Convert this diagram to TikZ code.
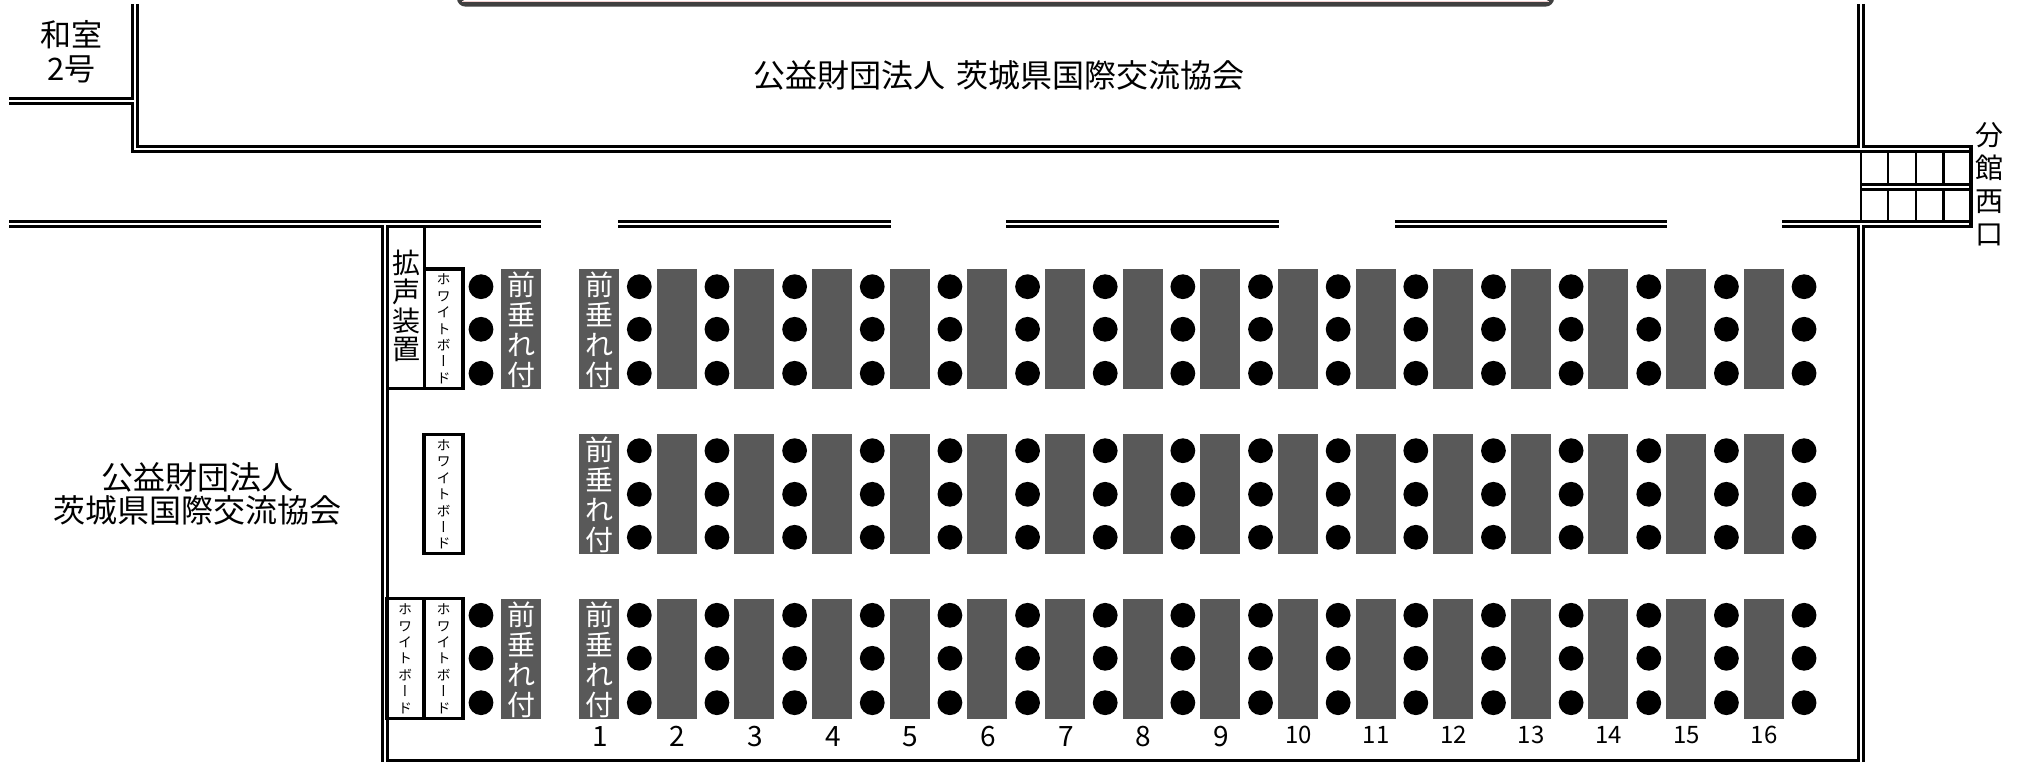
\documentclass[tikz,border=0pt]{standalone}
\usepackage{fontspec}
\setmainfont{Noto Sans CJK JP}
\newfontfamily\jpv[RawFeature={+vert}]{Noto Sans CJK JP}
\newcommand{\fsz}[2]{\fontsize{#1}{#2}\selectfont\lineskiplimit=-100pt\relax}
\tikzset{
  wall/.style={line width=1.55pt,line cap=butt,line join=miter,black},
  box wall/.style={line width=1.75pt,line cap=butt,line join=miter,black},
  thin wall/.style={line width=1.4pt,line cap=butt,black},
  desk/.style={fill=deskgray,draw=none,minimum width=20pt,minimum height=60pt,inner sep=0pt},
  seat/.style={circle,fill=black,draw=none,minimum size=12.4pt,inner sep=0pt},
  desklabel/.style={text=white,inner sep=0pt,align=center,font=\fsz{14}{14.9}},
  bigtext/.style={inner sep=0pt,align=center,font=\fsz{16}{12.6}},
  wbtext/.style={inner sep=0pt,align=center,font=\jpv\fsz{7}{8.2}},
  coltext/.style={inner sep=0pt,align=center,font=\fsz{14}{14.4}},
  numa/.style={inner sep=0pt,anchor=base,font=\fsz{14}{14}},
  numb/.style={inner sep=0pt,anchor=base,font=\fsz{12}{12}},
}
\definecolor{deskgray}{HTML}{595959}
\definecolor{bardark}{HTML}{404040}
\definecolor{barpink}{HTML}{F2D0D0}
\begin{document}
\begin{tikzpicture}[x=0.5pt,y=-0.5pt]
\useasboundingbox (0,0) rectangle (2018,764);
\fill[white] (0,0) rectangle (2018,764);
\begin{scope}
\clip (0,0) rectangle (2018,764);
\draw[bardark,line width=2.6pt,rounded corners=3pt] (459.5,-20) -- (459.5,4) -- (1551.5,4) -- (1551.5,-20);
\draw[barpink,line width=0.5pt] (462,1.2) -- (1549,1.2);
\end{scope}
% upper room
\draw[wall] (132.5,4) -- (132.5,98.5) -- (9,98.5);
\draw[wall] (9,103.5) -- (132.5,103.5) -- (132.5,151.5) -- (1971,151.5);
\draw[wall] (137.5,4) -- (137.5,146.5) -- (1858.5,146.5) -- (1858.5,4);
\draw[wall] (1863.5,4) -- (1863.5,146.5) -- (1971,146.5);
% stairs
\draw[wall] (1971,145) -- (1971,228);
\draw[thin wall] (1861,151.5) -- (1861,221.5);
\draw[thin wall] (1861,184.7) -- (1971,184.7);
\draw[thin wall] (1861,189.5) -- (1971,189.5);
\foreach \sx in {1888,1916,1943.5}{
  \draw[thin wall] (\sx,151.5) -- (\sx,184.7);
  \draw[thin wall] (\sx,189.5) -- (\sx,221.5);
}
% corridor wall segments
\draw[wall] (9,221.5) -- (541,221.5);
\draw[wall] (9,226.3) -- (382.3,226.3) -- (382.3,762);
\draw[wall] (541,226.3) -- (387.3,226.3) -- (387.3,760.7) -- (1858.6,760.7);
\foreach \xa/\xb in {618/891,1006/1279,1395/1667}{
  \draw[wall] (\xa,221.5) -- (\xb,221.5);
  \draw[wall] (\xa,226.3) -- (\xb,226.3);
}
\draw[wall] (1782,221.5) -- (1971,221.5);
\draw[wall] (1782,226.3) -- (1858.6,226.3) -- (1858.6,762);
\draw[wall] (1863.8,762) -- (1863.8,226.3) -- (1971,226.3);
% boxes
\draw[box wall] (424.5,227) -- (424.5,388.5);
\draw[box wall] (387,388.5) -- (463,388.5) -- (463,269) -- (424.5,269);
\draw[box wall] (424,434.7) rectangle (463,553.5);
\draw[box wall] (387,598.7) rectangle (463,718.3);
\draw[box wall] (424,598.7) -- (424,718.3);
% desks and seats
\foreach \rid/\top/\ya/\yb/\yc in {a/269/286.7/329.3/373.3,b/434/450.7/494.3/537.3,c/599/615.3/658.3/702.7}{
  \foreach \i in {0,...,15}{
    \pgfmathsetmacro{\dx}{579+77.65*\i+20}
    \pgfmathsetmacro{\sx}{639.3+77.65*\i}
    \pgfmathsetmacro{\dy}{\top+60}
    \node[desk] (desk\rid\i) at (\dx,\dy) {};
    \node[seat] (seat\rid\i x) at (\sx,\ya) {};
    \node[seat] (seat\rid\i y) at (\sx,\yb) {};
    \node[seat] (seat\rid\i z) at (\sx,\yc) {};
  }
}
\node[desk] (deskleftA) at (521,329) {};
\node[desk] (deskleftC) at (521,659) {};
\foreach \rid/\ya/\yb/\yc in {a/286.7/329.3/373.3,c/615.3/658.3/702.7}{
  \node[seat] (seatl\rid x) at (481,\ya) {};
  \node[seat] (seatl\rid y) at (481,\yb) {};
  \node[seat] (seatl\rid z) at (481,\yc) {};
}
% desk labels
\node[desklabel] (la) at (521,330) {前\\垂\\れ\\付};
\node[desklabel] (lc) at (521,660) {前\\垂\\れ\\付};
\node[desklabel] (l1) at (599,330) {前\\垂\\れ\\付};
\node[desklabel] (l2) at (599,494.7) {前\\垂\\れ\\付};
\node[desklabel] (l3) at (599,660) {前\\垂\\れ\\付};
% whiteboards
\node[wbtext] (w1) at (443.7,329) {ホ\\ワ\\イ\\ト\\ボ\\ー\\ド};
\node[wbtext] (w2) at (443.7,494.5) {ホ\\ワ\\イ\\ト\\ボ\\ー\\ド};
\node[wbtext] (w3) at (443.7,658.7) {ホ\\ワ\\イ\\ト\\ボ\\ー\\ド};
\node[wbtext] (w4) at (405,658.7) {ホ\\ワ\\イ\\ト\\ボ\\ー\\ド};
% texts
\node[coltext] (kakusei) at (406,306) {拡\\声\\装\\置};
\node[inner sep=0pt,align=center,font=\fsz{14}{16.5}] (bunkan) at (1989,184) {分\\館\\西\\口};
\node[inner sep=0pt,align=center,font=\fsz{15.5}{17}] (washitsu) at (71.4,52) {和室\\2号};
\node[bigtext] (top) at (999,75) {公益財団法人\ \hspace{.1em}茨城県国際交流協会};
\node[inner sep=0pt,align=center,font=\fsz{16}{16.5}] (leftroom) at (198,494) {公益財団法人\\茨城県国際交流協会};
% numbers
\foreach \n in {1,...,9}{
  \pgfmathsetmacro{\nx}{600+77.65*(\n-1)}
  \node[numa] (n\n) at (\nx,746.7) {\n};
}
\foreach \n in {10,...,16}{
  \pgfmathsetmacro{\nx}{599.5+77.65*(\n-1)}
  \node[numb] (n\n) at (\nx,743.3) {\n};
}
\end{tikzpicture}
\end{document}
